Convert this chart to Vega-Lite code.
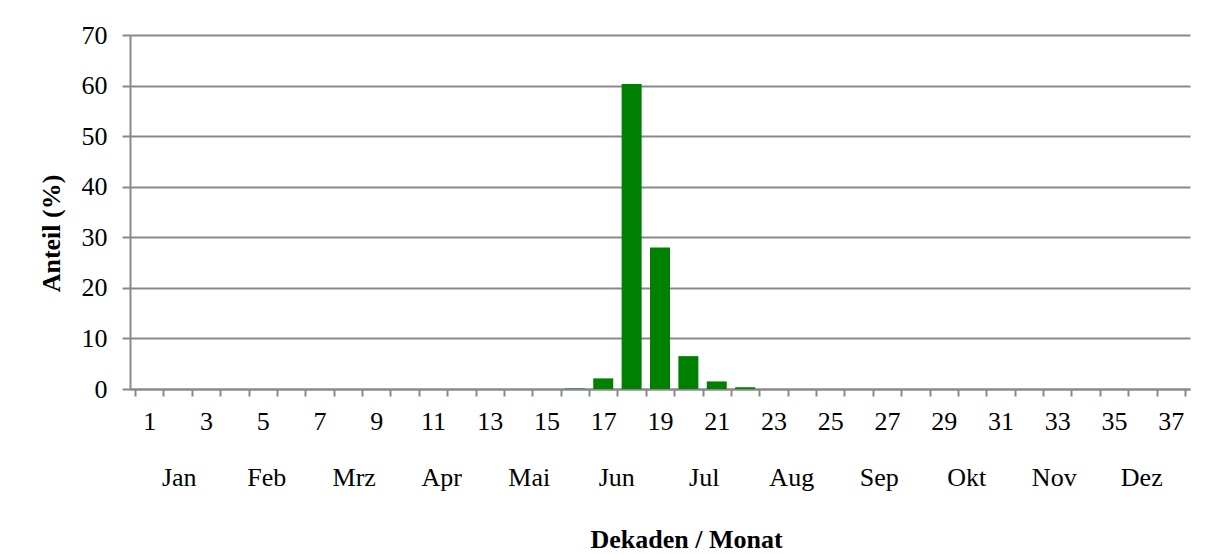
{
  "$schema": "https://vega.github.io/schema/vega-lite/v6.json",
  "width": 1060,
  "height": 354,
  "autosize": {"type": "none"},
  "padding": {"left": 130, "top": 35, "right": 25, "bottom": 165},
  "background": "white",
  "config": {
    "font": "Liberation Serif",
    "view": {"stroke": null},
    "axis": {
      "labelFont": "Liberation Serif",
      "titleFont": "Liberation Serif",
      "labelFontSize": 26,
      "titleFontSize": 26,
      "labelColor": "black",
      "titleColor": "black",
      "domainColor": "#898989",
      "tickColor": "#898989",
      "gridColor": "#898989",
      "domainWidth": 2,
      "tickWidth": 2,
      "gridWidth": 2
    }
  },
  "data": {
    "values": [
      {"dekade": 1, "anteil": 0}, {"dekade": 2, "anteil": 0}, {"dekade": 3, "anteil": 0},
      {"dekade": 4, "anteil": 0}, {"dekade": 5, "anteil": 0}, {"dekade": 6, "anteil": 0},
      {"dekade": 7, "anteil": 0}, {"dekade": 8, "anteil": 0}, {"dekade": 9, "anteil": 0},
      {"dekade": 10, "anteil": 0}, {"dekade": 11, "anteil": 0}, {"dekade": 12, "anteil": 0},
      {"dekade": 13, "anteil": 0}, {"dekade": 14, "anteil": 0}, {"dekade": 15, "anteil": 0},
      {"dekade": 16, "anteil": 0.1}, {"dekade": 17, "anteil": 2.1}, {"dekade": 18, "anteil": 60.3},
      {"dekade": 19, "anteil": 28.0}, {"dekade": 20, "anteil": 6.5}, {"dekade": 21, "anteil": 1.5},
      {"dekade": 22, "anteil": 0.35}, {"dekade": 23, "anteil": 0}, {"dekade": 24, "anteil": 0},
      {"dekade": 25, "anteil": 0}, {"dekade": 26, "anteil": 0}, {"dekade": 27, "anteil": 0},
      {"dekade": 28, "anteil": 0}, {"dekade": 29, "anteil": 0}, {"dekade": 30, "anteil": 0},
      {"dekade": 31, "anteil": 0}, {"dekade": 32, "anteil": 0}, {"dekade": 33, "anteil": 0},
      {"dekade": 34, "anteil": 0}, {"dekade": 35, "anteil": 0}, {"dekade": 36, "anteil": 0},
      {"dekade": 37, "anteil": 0}
    ]
  },
  "layer": [
    {
      "mark": {"type": "bar", "color": "#008000", "width": 20},
      "encoding": {
        "x": {
          "field": "dekade",
          "type": "quantitative",
          "scale": {"domain": [0.5, 37.5], "nice": false, "zero": false},
          "axis": {
            "orient": "bottom",
            "values": [0.5, 1.5, 2.5, 3.5, 4.5, 5.5, 6.5, 7.5, 8.5, 9.5, 10.5, 11.5, 12.5, 13.5, 14.5, 15.5, 16.5, 17.5, 18.5, 19.5, 20.5, 21.5, 22.5, 23.5, 24.5, 25.5, 26.5, 27.5, 28.5, 29.5, 30.5, 31.5, 32.5, 33.5, 34.5, 35.5, 36.5, 37.5],
            "labels": false,
            "grid": false,
            "tickSize": 7,
            "title": null
          }
        },
        "y": {
          "field": "anteil",
          "type": "quantitative",
          "scale": {"domain": [0, 70], "nice": false},
          "axis": {
            "values": [0, 10, 20, 30, 40, 50, 60, 70],
            "grid": true,
            "tickSize": 8,
            "labelPadding": 15,
            "title": "Anteil (%)",
            "titleFontWeight": "bold",
            "titlePadding": 17,
            "titleY": 198
          }
        }
      }
    },
    {
      "mark": {"type": "point", "opacity": 0},
      "encoding": {
        "x": {
          "field": "dekade",
          "type": "quantitative",
          "axis": {
            "orient": "bottom",
            "values": [1, 3, 5, 7, 9, 11, 13, 15, 17, 19, 21, 23, 25, 27, 29, 31, 33, 35, 37],
            "ticks": false,
            "domain": false,
            "grid": false,
            "labelPadding": 19,
            "labelOverlap": false,
            "labelFlush": false,
            "labelBound": false,
            "title": "Dekaden / Monat",
            "titleFontWeight": "bold",
            "titleBaseline": "alphabetic",
            "titleX": 556,
            "titleY": 158
          }
        }
      }
    },
    {
      "mark": {"type": "point", "opacity": 0},
      "encoding": {
        "x": {
          "field": "dekade",
          "type": "quantitative",
          "axis": {
            "orient": "bottom",
            "values": [2.0417, 5.125, 8.2083, 11.2917, 14.375, 17.4583, 20.5417, 23.625, 26.7083, 29.7917, 32.875, 35.9583],
            "ticks": false,
            "domain": false,
            "grid": false,
            "labelPadding": 75,
            "labelOverlap": false,
            "labelFlush": false,
            "labelBound": false,
            "labelExpr": "['Jan','Feb','Mrz','Apr','Mai','Jun','Jul','Aug','Sep','Okt','Nov','Dez'][round((datum.value - 0.5) * 12 / 37 - 0.5)]",
            "title": null
          }
        }
      }
    }
  ],
  "resolve": {"axis": {"x": "independent"}}
}
